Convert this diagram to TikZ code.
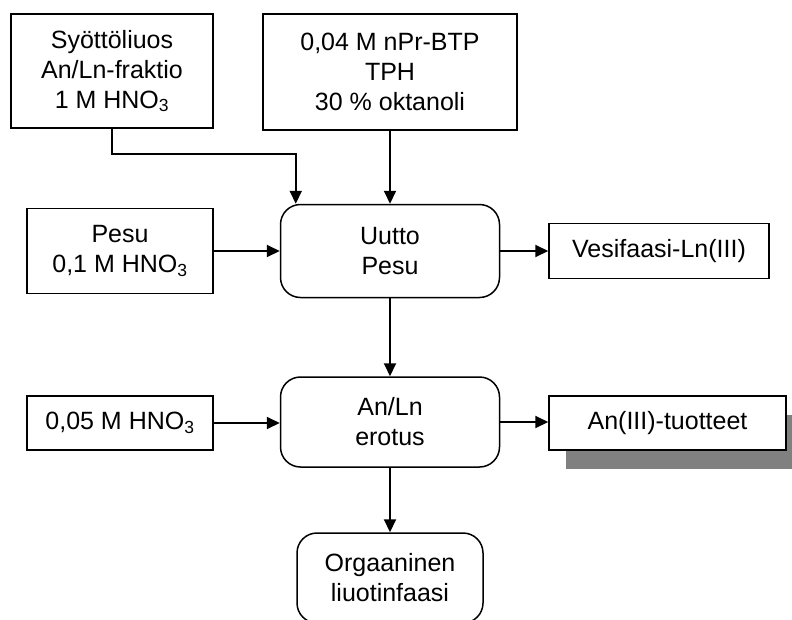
\documentclass[tikz,border=0pt]{standalone}
\usepackage{fontspec}
\setmainfont{Liberation Sans}
\usetikzlibrary{arrows.meta,shadows}
\definecolor{shadowgray}{RGB}{128,128,128}
\begin{document}
\begin{tikzpicture}[x=1pt,y=-1pt,
  every node/.style={font=\fontsize{25}{30}\selectfont, align=center, inner sep=0pt},
  box/.style={draw, line width=1.5pt, fill=white},
  rbox/.style={box, rounded corners=20pt},
  arr/.style={line width=2pt, -{Triangle[length=13pt,width=12pt]}}]
\useasboundingbox (0,0) rectangle (792,619);
\clip (0,0) rectangle (792,619);

% feed and solvent streams
\node[box, minimum width=202pt, minimum height=114pt] (syotto) at (112,71)
  {Syöttöliuos\\An/Ln-fraktio\\1 M HNO\textsubscript{3}};
\node[box, minimum width=254pt, minimum height=116pt] (liuotin) at (390,72)
  {0,04 M nPr-BTP\\TPH\\30 \% oktanoli};

% extraction stage
\node[rbox, minimum width=219pt, minimum height=93pt] (uutto) at (390,251)
  {Uutto\\Pesu};
\node[box, minimum width=186pt, minimum height=85pt] (pesu) at (120,251)
  {Pesu\\0,1 M HNO\textsubscript{3}};
\node[box, minimum width=220pt, minimum height=55pt] (vesi) at (659,251)
  {Vesifaasi-Ln(III)};

% separation stage
\node[box, minimum width=186pt, minimum height=54pt] (hno) at (120,423)
  {0,05 M HNO\textsubscript{3}};
\node[rbox, minimum width=219pt, minimum height=90pt] (anln) at (390,422)
  {An/Ln\\erotus};
\node[box, minimum width=237pt, minimum height=54pt,
  drop shadow={shadow xshift=17pt, shadow yshift=-19pt, fill=shadowgray, opacity=1}]
  (tuotteet) at (667.5,423) {An(III)-tuotteet};

% organic outlet
\node[rbox, minimum width=186pt, minimum height=90pt] (org) at (390,578)
  {Orgaaninen\\liuotinfaasi};

% connectors
\draw[arr] (syotto.south) |- ++(0,25) -| ([xshift=16pt]uutto.north west);
\draw[arr] (liuotin.south) -- (liuotin.south |- uutto.north);
\draw[arr] (pesu.east) -- (pesu.east -| uutto.west);
\draw[arr] (uutto.east) -- (uutto.east -| vesi.west);
\draw[arr] (uutto.south) -- (anln.north);
\draw[arr] (hno.east) -- (hno.east -| anln.west);
\draw[arr] (anln.east) -- (anln.east -| tuotteet.west);
\draw[arr] (anln.south) -- (org.north);
\end{tikzpicture}
\end{document}
